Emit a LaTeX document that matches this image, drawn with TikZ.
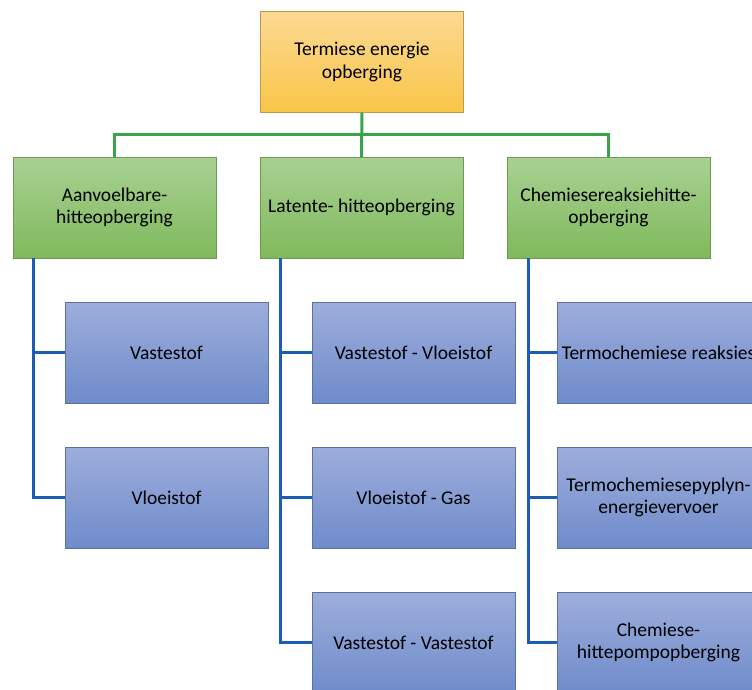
\documentclass[tikz,border=0pt]{standalone}
\usepackage{fontspec}
\setmainfont{Carlito}
\usepackage{xcolor}

\definecolor{goldtop}{HTML}{FCD993}
\definecolor{goldbot}{HTML}{F9C548}
\definecolor{goldline}{HTML}{BF9A4E}
\definecolor{greentop}{HTML}{A8D192}
\definecolor{greenbot}{HTML}{80B95C}
\definecolor{greenline}{HTML}{6E9A50}
\definecolor{bluetop}{HTML}{9DAEDB}
\definecolor{bluebot}{HTML}{6F8BCB}
\definecolor{blueline}{HTML}{5A70A5}
\definecolor{greenedge}{HTML}{3AA548}
\definecolor{blueedge}{HTML}{1C5DB4}

\begin{document}
\begin{tikzpicture}[x=1pt,y=-1pt]
	\tikzstyle{box} = [rectangle, minimum width=203pt, minimum height=101pt, align=center, font=\fontsize{19.5}{22.5}\selectfont, inner sep=0pt]
	\tikzstyle{root} = [box, draw=goldline, top color=goldtop, bottom color=goldbot]
	\tikzstyle{kind} = [box, draw=greenline, top color=greentop, bottom color=greenbot]
	\tikzstyle{leaf} = [box, draw=blueline, top color=bluetop, bottom color=bluebot]
	\tikzstyle{gedge} = [draw=greenedge, line width=3pt]
	\tikzstyle{bedge} = [draw=blueedge, line width=3pt]
	\useasboundingbox (0,0) rectangle (752,689);
	\clip (0,0) rectangle (752,689);
		\node[root] (teo) at (362,62)  {Termiese energie\\opberging};
		\node[kind] (aho) at (114.5,207.5) {Aanvoelbare-\\hitteopberging};
		\node[kind] (lho) at (361.5,207.5) {Latente- hitteopberging};
		\node[kind] (cro) at (608.5,207.5) {Chemiesereaksiehitte-\\opberging};
		\node[leaf] (vas) at (166.5,352.5) {Vastestof};
		\node[leaf] (vlo) at (166.5,497.5) {Vloeistof};
		\node[leaf] (vvl) at (413.5,352.5) {Vastestof - Vloeistof};
		\node[leaf] (vga) at (413.5,497.5) {Vloeistof - Gas};
		\node[leaf] (vva) at (413.5,642.5) {Vastestof - Vastestof};
		\node[leaf] (tre) at (658.5,352.5) {Termochemiese reaksies};
		\node[leaf] (tpe) at (658.5,497.5) {Termochemiesepyplyn-\\energievervoer};
		\node[leaf] (chp) at (658.5,642.5) {Chemiese-\\hittepompopberging};
	\coordinate (hub) at (362,134);
	\coordinate (sa) at (33,258);
	\coordinate (sl) at (280,258);
	\coordinate (sc) at (528,258);
	\draw[gedge] (teo) -- (lho);
	\draw[gedge] (aho) |- (hub);
	\draw[gedge] (cro) |- (hub);
	\draw[bedge] (sa) |- (vas.west);
	\draw[bedge] (sa) |- (vlo.west);
	\draw[bedge] (sl) |- (vvl.west);
	\draw[bedge] (sl) |- (vga.west);
	\draw[bedge] (sl) |- (vva.west);
	\draw[bedge] (sc) |- (tre.west);
	\draw[bedge] (sc) |- (tpe.west);
	\draw[bedge] (sc) |- (chp.west);
\end{tikzpicture}
\end{document}
